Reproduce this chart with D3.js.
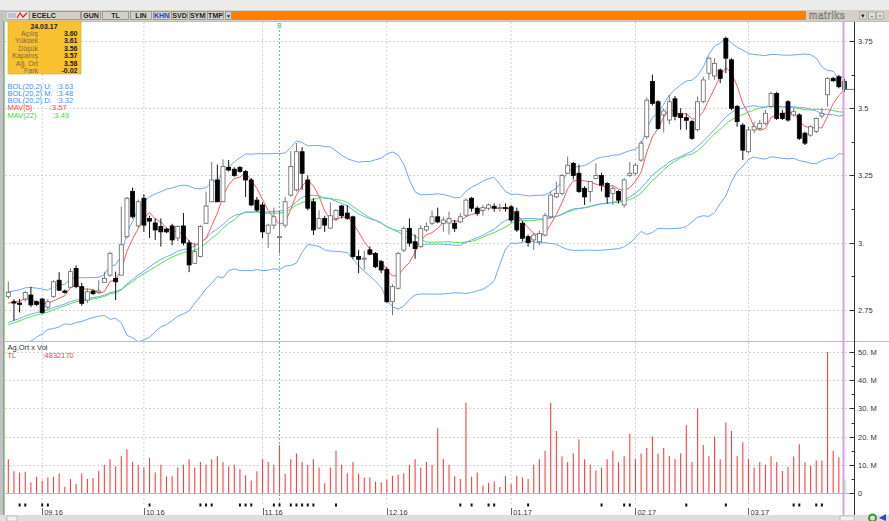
<!DOCTYPE html>
<html><head><meta charset="utf-8">
<script src="https://cdn.jsdelivr.net/npm/d3@7"></script>
<style>
body{margin:0;background:#fff;overflow:hidden}
svg{display:block;font-family:"Liberation Sans",Arial,sans-serif}
</style></head><body>
<svg id="c" width="889" height="521"></svg>
<script>
// ---------- DATA ----------
const opens=[2.80,2.78,2.775,2.79,2.805,2.78,2.79,2.76,2.80,2.86,
2.82,2.834,2.904,2.836,2.786,2.82,2.815,2.852,2.879,2.867,
2.879,3.022,3.19,3.062,3.165,3.09,3.073,3.06,3.05,3.062,
3.017,3.062,2.999,2.923,2.948,3.072,3.152,3.233,3.152,3.28,
3.273,3.28,3.264,3.233,3.158,3.14,3.035,3.065,3.02,3.065,
3.177,3.196,3.338,3.233,3.152,3.054,3.09,3.054,3.09,3.136,
3.11,3.096,2.948,2.94,2.973,2.96,2.929,2.90,2.78,2.83,
2.972,3.053,3.003,2.985,3.047,3.072,3.096,3.072,3.073,3.072,
3.077,3.102,3.165,3.128,3.12,3.128,3.135,3.13,3.13,3.133,
3.115,3.072,3.022,3.01,3.003,3.028,3.096,3.17,3.183,3.258,
3.295,3.258,3.202,3.19,3.239,3.25,3.22,3.183,3.19,3.14,
3.25,3.258,3.307,3.394,3.599,3.524,3.475,3.456,3.535,3.48,
3.465,3.45,3.42,3.525,3.63,3.62,3.642,3.76,3.68,3.506,
3.437,3.338,3.419,3.425,3.444,3.506,3.555,3.481,3.524,3.475,
3.475,3.407,3.40,3.413,3.471,3.55,3.611,3.617,3.60];
const highs=[2.855,2.79,2.79,2.82,2.836,2.785,2.795,2.79,2.86,2.89,
2.825,2.905,2.915,2.85,2.83,2.825,2.86,2.892,2.966,2.892,
3.134,3.17,3.205,3.16,3.18,3.10,3.09,3.09,3.055,3.07,
3.065,3.11,3.01,3.0,3.065,3.19,3.30,3.29,3.31,3.307,
3.28,3.285,3.27,3.24,3.17,3.15,3.07,3.13,3.12,3.17,
3.34,3.37,3.355,3.25,3.165,3.12,3.10,3.15,3.125,3.14,
3.14,3.10,2.973,2.97,2.986,2.965,2.935,2.91,2.845,2.965,
3.06,3.09,3.03,3.065,3.075,3.12,3.13,3.096,3.115,3.084,
3.11,3.165,3.17,3.135,3.14,3.145,3.145,3.145,3.145,3.14,
3.13,3.08,3.03,3.035,3.045,3.11,3.19,3.226,3.255,3.32,
3.30,3.29,3.21,3.23,3.295,3.26,3.225,3.21,3.195,3.24,
3.30,3.295,3.38,3.54,3.625,3.53,3.50,3.55,3.545,3.50,
3.48,3.456,3.543,3.617,3.692,3.686,3.648,3.766,3.686,3.512,
3.444,3.431,3.45,3.456,3.493,3.561,3.561,3.493,3.53,3.50,
3.481,3.413,3.437,3.466,3.50,3.617,3.617,3.624,3.61];
const lows=[2.79,2.71,2.74,2.78,2.76,2.765,2.735,2.75,2.795,2.82,
2.81,2.83,2.83,2.765,2.775,2.805,2.81,2.85,2.873,2.786,
2.879,3.015,3.09,3.055,3.04,3.017,3.01,2.985,3.035,2.99,
3.005,2.99,2.89,2.92,2.945,3.07,3.15,3.15,3.15,3.265,
3.245,3.26,3.17,3.135,3.115,3.017,2.98,3.05,2.96,3.055,
3.17,3.19,3.196,3.12,3.028,3.05,3.04,3.05,3.08,3.09,
3.085,2.94,2.886,2.898,2.953,2.905,2.886,2.775,2.73,2.825,
2.965,2.985,2.94,2.98,3.04,3.065,3.072,3.04,3.03,3.04,
3.072,3.095,3.115,3.10,3.10,3.12,3.115,3.115,3.115,3.075,
3.04,3.005,2.985,2.972,2.99,3.022,3.09,3.165,3.175,3.255,
3.235,3.185,3.14,3.15,3.235,3.19,3.145,3.14,3.145,3.13,
3.245,3.25,3.30,3.385,3.51,3.42,3.41,3.44,3.455,3.42,
3.42,3.382,3.413,3.518,3.605,3.605,3.593,3.63,3.493,3.431,
3.307,3.332,3.407,3.419,3.437,3.50,3.456,3.456,3.45,3.468,
3.382,3.363,3.394,3.407,3.462,3.506,3.599,3.574,3.56];
const closes=[2.815,2.775,2.77,2.814,2.768,2.77,2.74,2.78,2.854,2.823,
2.815,2.892,2.836,2.774,2.817,2.81,2.82,2.867,2.96,2.854,
2.992,3.165,3.096,3.152,3.065,3.08,3.047,3.04,3.04,3.01,
3.06,2.999,2.917,2.966,3.06,3.136,3.233,3.152,3.283,3.27,
3.25,3.265,3.233,3.14,3.121,3.04,3.065,3.096,3.022,3.152,
3.283,3.338,3.258,3.128,3.047,3.09,3.065,3.10,3.12,3.10,
3.09,2.948,2.938,2.942,2.957,2.91,2.898,2.78,2.836,2.96,
3.053,2.998,2.978,3.053,3.06,3.096,3.077,3.084,3.09,3.053,
3.096,3.158,3.128,3.109,3.13,3.14,3.128,3.13,3.129,3.084,
3.047,3.016,3.0,3.028,3.034,3.10,3.177,3.183,3.25,3.288,
3.25,3.19,3.17,3.227,3.25,3.214,3.17,3.202,3.158,3.233,
3.258,3.288,3.37,3.53,3.518,3.425,3.49,3.524,3.47,3.465,
3.455,3.388,3.524,3.605,3.686,3.667,3.611,3.686,3.50,3.45,
3.344,3.419,3.431,3.444,3.481,3.555,3.462,3.462,3.456,3.487,
3.388,3.37,3.431,3.462,3.481,3.61,3.602,3.58,3.57];
// volume (Ag.Ort x Vol, millions TL)
const volumes=[12,7.7,7.3,7.5,3.8,5.8,4.3,5.5,5.8,6.9,
2.2,5.0,3.2,6.9,5.0,5.3,7.8,10,12,9.5,
13,15.5,11,10,9,12.5,7.3,10,5.9,5.9,
9,10,12,9,11,10,12,13,11,9.5,
10,8.5,6.3,4.4,7.7,12,11,10,17,6.7,
12,14,11,10,12,9,3.5,9,15,10,
7,11,6.8,5.5,5.5,4.1,3.8,4.7,6.1,6.5,
7,10,12,9,11,10,23,12,10,5.9,
5,32,5.8,7.3,2.7,3.6,4.1,2.1,6.1,3.2,
6.1,5.5,5,10,12,15,32,22,13,11,
14,19,12,10,8,9,12,15,11,13,
21,12,14,16,20,14,16,13,12,14,
24,11,30,17,13,20,12,25,22,13,
18,12,9,11,10,13,11,7.8,9.3,12.9,
17.3,10.9,9.7,11.5,11.5,50,15,12.7,4.83];
// closes before the visible window (estimated, only used to warm up the indicators)
const leadCloses=[2.60,2.62,2.61,2.63,2.62,2.65,2.64,2.66,2.65,2.68,2.70,2.69,2.71,2.72,2.74,2.73,2.74,2.76,2.75,2.77,2.78];
const monthIdx=[6,24,45,67,89,111,131];
const monthLabels=["09.16","10.16","11.16","12.16","01.17","02.17","03.17"];
const priceTicks=[2.75,3,3.25,3.5,3.75];
const priceTickLabels=["2.75","3.","3.25","3.5","3.75"];
const volTicks=[0,10,20,30,40,50];
const volTickLabels=["0","10. M","20. M","30. M","40. M","50. M"];
const markerIdx=[2,3,6,7,25,34,35,36,41,42,43,47,48,50,51,52,53,54,58,80,82,85,86,92,105,109,110,120,127,139,140,143,144];
const eventIdx=48;
const infoDate="24.03.17";
const infoLabels=["Açılış","Yüksek","Düşük","Kapanış","Ağ. Ort","Fark"];
const infoValues=["3.60","3.61","3.56","3.57","3.58","-0.02"];
const legendLabels=["BOL(20,2) U:","BOL(20,2) M:","BOL(20,2) D:","MAV(5)","MAV(22)"];
const legendValues=[":3.63",":3.48",":3.32",":3.57",":3.49"];
const volLegendValue=":4832170";
const toolbarButtons=["GUN","TL","LIN","KHN","SVD","SYM","TMP","▼"];

// ---------- LAYOUT ----------
const svg=d3.select("#c");
const N=closes.length;
const x=d3.scaleLinear().domain([0,N-1]).range([8.3,844.5]);
const y=d3.scaleLinear().domain([2.75,3.75]).range([309.8,41]);
const yv=d3.scaleLinear().domain([0,50]).range([493,352]);
const AX=854.5;

// indicators
const all=leadCloses.concat(closes), L=leadCloses.length;
const up=[],mid=[],dn=[],ma5=[],ma22=[];
for(let i=0;i<N;i++){
  const j=i+L;
  const w20=all.slice(j-19,j+1), m=d3.mean(w20);
  const sd=Math.sqrt(d3.mean(w20,v=>(v-m)*(v-m)));
  mid.push(m);up.push(m+2*sd);dn.push(m-2*sd);
  ma5.push(d3.mean(all.slice(j-4,j+1)));
  ma22.push(d3.mean(all.slice(j-21,j+1)));
}

// chrome
svg.append("rect").attr("width",889).attr("height",521).attr("fill","#fff");
svg.append("rect").attr("width",889).attr("height",10).attr("fill","#ececec");
svg.append("rect").attr("y",10).attr("width",889).attr("height",11).attr("fill","#d4d0c8");
svg.append("rect").attr("x",0).attr("y",10).attr("width",4).attr("height",511).attr("fill","#c2c2c2");
svg.append("line").attr("x1",3.5).attr("x2",3.5).attr("y1",21).attr("y2",521).attr("stroke","#9a9a9a");
// toolbar
const tb=svg.append("g").attr("font-size",7).attr("font-weight","bold");
tb.append("rect").attr("x",6).attr("y",11.5).attr("width",23).attr("height",8).attr("fill","#e8e4dc").attr("stroke","#888").attr("stroke-width",0.5);
tb.append("rect").attr("x",8).attr("y",13).attr("width",8).attr("height",5).attr("fill","#c0c0e0");
tb.append("path").attr("d","M17,18 L20,13 L23,17 L27,13").attr("stroke","#d02020").attr("fill","none").attr("stroke-width",1.2);
tb.append("rect").attr("x",29.5).attr("y",11.5).attr("width",51).attr("height",8).attr("fill","#d4d0c8").attr("stroke","#777").attr("stroke-width",0.6);
tb.append("text").attr("x",32).attr("y",18.3).text("ECELC").attr("fill","#222");
const bx=[[81,101],[102,129],[130,152],[153,170],[171,188],[189,206],[207,224],[225,232]];
toolbarButtons.forEach((t,k)=>{
  tb.append("rect").attr("x",bx[k][0]+0.5).attr("y",11.5).attr("width",bx[k][1]-bx[k][0]-1).attr("height",8)
    .attr("fill","#d4d0c8").attr("stroke","#777").attr("stroke-width",0.6);
  tb.append("text").attr("x",(bx[k][0]+bx[k][1])/2).attr("y",18.3).attr("text-anchor","middle")
    .attr("fill",t==="KHN"?"#2040e0":"#222").attr("font-size",t==="▼"?5:7).text(t);
});
svg.append("rect").attr("x",232).attr("y",11).attr("width",574).attr("height",9).attr("fill","#ff8000");
svg.append("text").attr("x",809).attr("y",19).attr("font-size",10).attr("letter-spacing",0.6).attr("fill","#e4e4e4").attr("stroke","#6a6a6a").attr("stroke-width",0.5).text("matriks");
[[863,"▾"],[872,"-"],[880,"▫"]].forEach(d=>{
  svg.append("rect").attr("x",d[0]-3.5).attr("y",12).attr("width",7).attr("height",7).attr("fill","#e0ddd6").attr("stroke","#888").attr("stroke-width",0.5);
  svg.append("text").attr("x",d[0]).attr("y",18).attr("text-anchor","middle").attr("font-size",7).attr("fill","#222").text(d[1]);
});

// grid
const grid=svg.append("g").attr("stroke","#c8c8c8").attr("stroke-dasharray","2,2").attr("stroke-width",0.8);
priceTicks.forEach(p=>grid.append("line").attr("x1",5).attr("x2",AX).attr("y1",Math.round(y(p))+0.5).attr("y2",Math.round(y(p))+0.5));
volTicks.slice(1).forEach(v=>grid.append("line").attr("x1",5).attr("x2",AX).attr("y1",Math.round(yv(v))+0.5).attr("y2",Math.round(yv(v))+0.5));
monthIdx.forEach(i=>grid.append("line").attr("x1",x(i)).attr("x2",x(i)).attr("y1",22).attr("y2",505));
svg.append("line").attr("x1",x(eventIdx)).attr("x2",x(eventIdx)).attr("y1",30).attr("y2",505)
  .attr("stroke","#44cc44").attr("stroke-dasharray","2,2").attr("stroke-width",0.9);
svg.append("text").attr("x",x(eventIdx)).attr("y",28).attr("text-anchor","middle").attr("font-size",6.5).attr("fill","#33bb33").text("B");

// panel borders
const gb=svg.append("g").attr("stroke","#90dc90").attr("stroke-width",1);
gb.append("line").attr("x1",4).attr("x2",889).attr("y1",21.5).attr("y2",21.5);
gb.append("line").attr("x1",4).attr("x2",889).attr("y1",341.5).attr("y2",341.5);
gb.append("line").attr("x1",4).attr("x2",855).attr("y1",493.5).attr("y2",493.5);
gb.append("line").attr("x1",4.5).attr("x2",4.5).attr("y1",21).attr("y2",515);

// price panel
svg.append("clipPath").attr("id","pc").append("rect").attr("x",5).attr("y",22).attr("width",AX-5).attr("height",319);
const pp=svg.append("g").attr("clip-path","url(#pc)");
const line=arr=>d3.line().x((d,i)=>x(i)).y(d=>y(d))(arr);
pp.append("path").attr("d",line(up)).attr("fill","none").attr("stroke","#6aaaf2").attr("stroke-width",1);
pp.append("path").attr("d",line(dn)).attr("fill","none").attr("stroke","#6aaaf2").attr("stroke-width",1);
pp.append("path").attr("d",line(ma22)).attr("fill","none").attr("stroke","#55dd55").attr("stroke-width",1);
pp.append("path").attr("d",line(mid)).attr("fill","none").attr("stroke","#6aaaf2").attr("stroke-width",1);
pp.append("path").attr("d",line(ma5)).attr("fill","none").attr("stroke","#ff5a5a").attr("stroke-width",1);
for(let i=0;i<N;i++){
  const o=opens[i],c=closes[i],h=highs[i],l=lows[i];
  const isUp=c>=o, last=i===N-1;
  pp.append("line").attr("x1",x(i)).attr("x2",x(i)).attr("y1",y(h)).attr("y2",y(l))
    .attr("stroke",isUp?"#777":"#111").attr("stroke-width",1);
  const top=y(Math.max(o,c)), hgt=Math.max(1,Math.abs(y(o)-y(c)));
  pp.append("rect").attr("x",x(i)-2).attr("y",top).attr("width",4).attr("height",hgt)
    .attr("fill",last?"#2e6b2e":(isUp?"#fff":"#000")).attr("stroke",last?"#111":(isUp?"#666":"#000")).attr("stroke-width",0.8);
}

// volume panel
const vp=svg.append("g");
for(let i=0;i<N;i++){
  const last=i===N-1;
  vp.append("line").attr("x1",x(i)).attr("x2",x(i)).attr("y1",yv(0)).attr("y2",yv(volumes[i]))
    .attr("stroke",last?"#c8f4c8":"#ff4040").attr("stroke-width",last?4:1.1);
}

// info box
const ib=svg.append("g");
ib.append("rect").attr("x",8).attr("y",21).attr("width",73).attr("height",53).attr("fill","#f7c12f").attr("stroke","#e0a820").attr("stroke-width",0.6);
ib.append("text").attr("x",44).attr("y",29).attr("text-anchor","middle").attr("font-size",7).attr("font-weight","bold").attr("fill","#222").text(infoDate);
infoLabels.forEach((t,k)=>{
  const yy=36+k*7.4;
  ib.append("text").attr("x",38).attr("y",yy).attr("text-anchor","end").attr("font-size",7).attr("fill","#806a40").text(t);
  ib.append("text").attr("x",77.5).attr("y",yy).attr("text-anchor","end").attr("font-size",7).attr("font-weight","bold").attr("fill","#222").text(infoValues[k]);
});
// legend
const lc=["#3f8ff0","#3f8ff0","#3f8ff0","#ff4444","#38d838"];
const lvx=[56.5,56.5,56.5,50,52.5];
legendLabels.forEach((t,k)=>{
  const yy=88.5+k*7.3;
  svg.append("text").attr("x",7.5).attr("y",yy).attr("font-size",7.5).attr("fill",lc[k]).text(t);
  svg.append("text").attr("x",lvx[k]).attr("y",yy).attr("font-size",7.5).attr("fill",lc[k]).text(legendValues[k]);
});
svg.append("text").attr("x",7.5).attr("y",349.5).attr("font-size",7.5).attr("fill","#333").text("Ag.Ort x Vol");
svg.append("text").attr("x",7.5).attr("y",357.5).attr("font-size",7.5).attr("fill","#ff4040").text("TL");
svg.append("text").attr("x",42.5).attr("y",357.5).attr("font-size",7.5).attr("fill","#ff4040").text(volLegendValue);

// pink current-time line and last price marker
svg.append("line").attr("x1",843.5).attr("x2",843.5).attr("y1",21).attr("y2",521).attr("stroke","#d6a4e0").attr("stroke-width",2);
svg.append("line").attr("x1",844).attr("x2",AX).attr("y1",y(closes[N-1])).attr("y2",y(closes[N-1])).attr("stroke","#6d6dd8").attr("stroke-width",1);

// right axis
const ax=svg.append("g").attr("font-size",7.5).attr("fill","#333");
ax.append("line").attr("x1",AX).attr("x2",AX).attr("y1",22).attr("y2",515).attr("stroke","#333");
priceTicks.forEach((p,k)=>{
  const yy=Math.round(y(p))+0.5;
  ax.append("line").attr("x1",AX-5).attr("x2",AX).attr("y1",yy).attr("y2",yy).attr("stroke","#333");
  ax.append("text").attr("x",858).attr("y",yy+2.5).text(priceTickLabels[k]);
});
[2.875,3.125,3.375,3.625].forEach(p=>{
  const yy=Math.round(y(p))+0.5;
  ax.append("line").attr("x1",AX-3).attr("x2",AX).attr("y1",yy).attr("y2",yy).attr("stroke","#333");
});
volTicks.forEach((v,k)=>{
  const yy=Math.round(yv(v))+0.5;
  ax.append("line").attr("x1",AX-5).attr("x2",AX).attr("y1",yy).attr("y2",yy).attr("stroke","#333");
  ax.append("text").attr("x",858).attr("y",yy+2.5).text(volTickLabels[k]);
});
[5,15,25,35,45].forEach(v=>{
  const yy=Math.round(yv(v))+0.5;
  ax.append("line").attr("x1",AX-3).attr("x2",AX).attr("y1",yy).attr("y2",yy).attr("stroke","#333");
});

// bottom date axis
const bx2=svg.append("g");
markerIdx.forEach(i=>bx2.append("rect").attr("x",x(i)-1).attr("y",503.5).attr("width",2).attr("height",3).attr("fill","#111"));
monthIdx.forEach((i,k)=>{
  bx2.append("line").attr("x1",Math.round(x(i))+0.5).attr("x2",Math.round(x(i))+0.5).attr("y1",508).attr("y2",515).attr("stroke","#666");
  bx2.append("text").attr("x",x(i)+2).attr("y",514.5).attr("font-size",7.5).attr("fill","#333").text(monthLabels[k]);
});
svg.append("rect").attr("x",0).attr("y",515).attr("width",889).attr("height",6).attr("fill","#dedede");
svg.append("rect").attr("x",7).attr("y",516).attr("width",10).attr("height",5).attr("fill","#f2f2f2").attr("stroke","#999").attr("stroke-width",0.5);
svg.append("rect").attr("x",840).attr("y",516).attr("width",14).attr("height",5).attr("fill","#f2f2f2").attr("stroke","#999").attr("stroke-width",0.5);
svg.append("circle").attr("cx",872.5).attr("cy",518).attr("r",3.5).attr("fill","none").attr("stroke","#2aa02a").attr("stroke-width",2);
svg.append("path").attr("d","M879,518 L886,514 L886,521 Z").attr("fill","#2050c0");
</script>
</body></html>
